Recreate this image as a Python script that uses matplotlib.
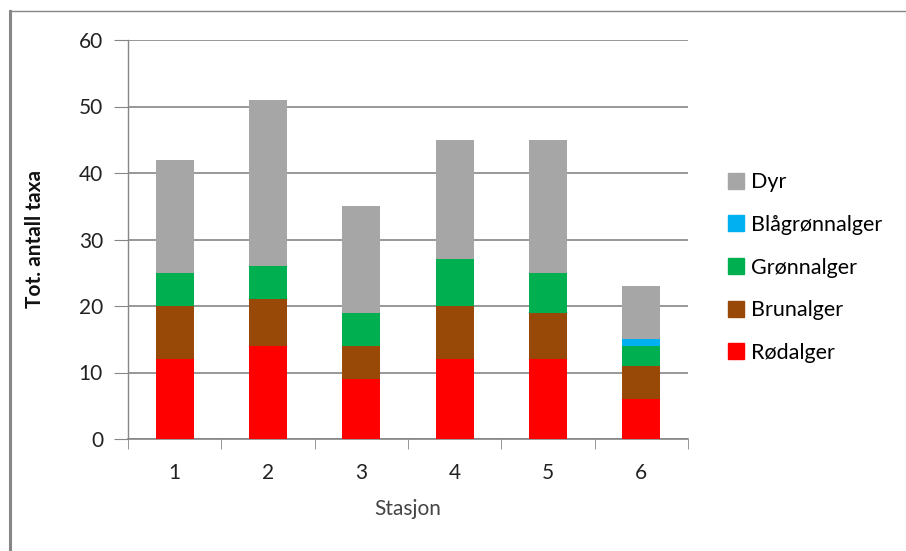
import matplotlib
matplotlib.use("Agg")
import matplotlib.pyplot as plt
from matplotlib.lines import Line2D
import numpy as np

plt.rcParams['font.family'] = ['Lato', 'DejaVu Sans']

stations = ["1", "2", "3", "4", "5", "6"]
rodalger = [12, 14, 9, 12, 12, 6]
brunalger = [8, 7, 5, 8, 7, 5]
gronnalger = [5, 5, 5, 7, 6, 3]
blagronnalger = [0, 0, 0, 0, 0, 1]
dyr = [17, 25, 16, 18, 20, 8]

series = [
    ("Rødalger", rodalger, "#ff0000"),
    ("Brunalger", brunalger, "#984807"),
    ("Grønnalger", gronnalger, "#00b050"),
    ("Blågrønnalger", blagronnalger, "#00b0f0"),
    ("Dyr", dyr, "#a6a6a6"),
]

fig = plt.figure(figsize=(9.06, 5.51), dpi=100)
W, H = 906, 551
ax = fig.add_axes([128 / W, 1 - 439 / H, 560 / W, 399 / H])

x = np.arange(len(stations))
bottom = np.zeros(len(stations))
handles = []
for name, vals, col in series:
    v = np.array(vals, dtype=float)
    ax.bar(x, v, bottom=bottom, width=0.41, color=col, zorder=3, linewidth=0)
    bottom += v
    handles.append((name, col))

ax.set_xlim(-0.5, 5.5)
ax.set_ylim(0, 60)
ax.set_yticks(range(0, 61, 10))
ax.set_yticklabels([str(t) for t in range(0, 61, 10)], fontsize=15, color="#222222")
ax.yaxis.grid(True, color="#868686", linewidth=1.2, zorder=0)
for s in ["top", "right"]:
    ax.spines[s].set_visible(False)
ax.spines["left"].set_color("#868686")
ax.spines["bottom"].set_color("#868686")
ax.spines["left"].set_linewidth(1.0)
ax.spines["bottom"].set_linewidth(1.2)
ax.tick_params(axis="y", length=10, color="#868686", pad=8)

ax.set_xticks(x)
ax.set_xticklabels(stations, fontsize=15, color="#222222")
ax.tick_params(axis="x", length=0, pad=17)
ax.set_xticks(np.arange(-0.5, 6.0, 1.0), minor=True)
ax.tick_params(axis="x", which="minor", length=7, color="#868686")

ax.set_xlabel("Stasjon", fontsize=15, color="#444444", labelpad=12)
ax.set_ylabel("Tot. antall taxa", fontsize=15, fontweight="bold", color="#111111", labelpad=24)

# legend (top to bottom: Dyr ... Rødalger)
leg_handles = [Line2D([0], [0], marker="s", linestyle="none", markersize=11,
                      markerfacecolor=c, markeredgecolor=c) for n, c in reversed(handles)]
leg_labels = [n for n, c in reversed(handles)]
fig.legend(leg_handles, leg_labels, loc="upper left",
           bbox_to_anchor=(706 / W, 1 - 153 / H), frameon=False,
           fontsize=15.5, handletextpad=0.2, labelspacing=1.05, handlelength=1.0)

# outer frame
fig.add_artist(Line2D([10 / W, 10 / W], [1 - 11 / H, 0], transform=fig.transFigure,
                      color="#868686", linewidth=2.2))
fig.add_artist(Line2D([10 / W, 1], [1 - 11 / H, 1 - 11 / H], transform=fig.transFigure,
                      color="#868686", linewidth=1.0))

fig.savefig("out.png", dpi=100)
